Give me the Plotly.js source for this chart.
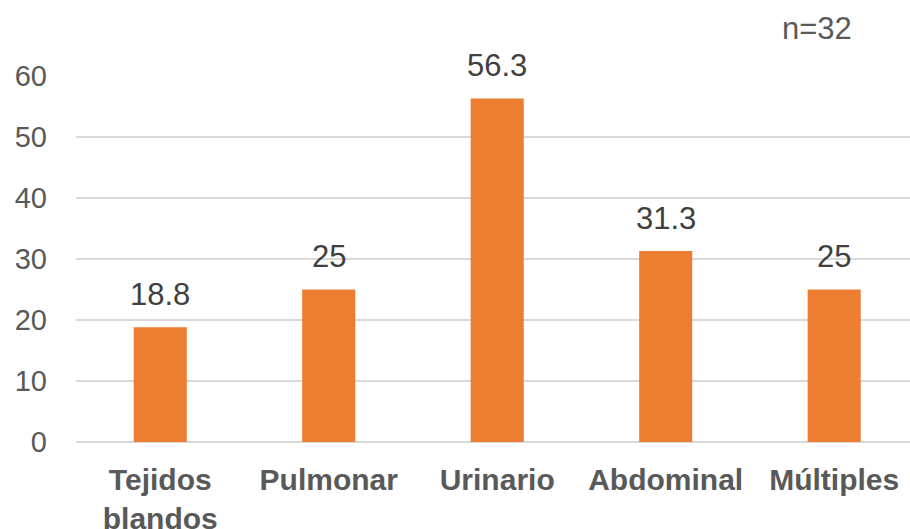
<!DOCTYPE html>
<html>
<head>
<meta charset="utf-8">
<script src="https://cdn.plot.ly/plotly-3.0.1.min.js"></script>
<style>html,body{margin:0;padding:0;background:#fff;}#chart{width:910px;height:529px;}</style>
</head>
<body>
<div id="chart"></div>
<script>
var categories = ["Tejidos<br>blandos", "Pulmonar", "Urinario", "Abdominal", "Múltiples"];
var values = [18.8, 25, 56.3, 31.3, 25];
var valueLabels = ["18.8", "25", "56.3", "31.3", "25"];
var yTicks = [0, 10, 20, 30, 40, 50, 60];
var noteText = "n=32";

var FONT = "Liberation Sans, Arial, sans-serif";
var plotL = 76, plotR = 910, plotT = 76, plotB = 442;

var trace = {
  type: "bar",
  x: categories,
  y: values,
  marker: {color: "#ED7D31"},
  hoverinfo: "none"
};

var annotations = categories.map(function (c, i) {
  return {
    x: c, y: values[i], xref: "x", yref: "y",
    text: valueLabels[i], showarrow: false,
    xanchor: "center", yanchor: "middle", yshift: 33,
    font: {family: FONT, size: 31, color: "#404040"}
  };
});
annotations.push({
  x: (817 - plotL) / (plotR - plotL),
  y: (plotB - 28.5) / (plotB - plotT),
  xref: "paper", yref: "paper", text: noteText, showarrow: false,
  xanchor: "center", yanchor: "middle",
  font: {family: FONT, size: 31, color: "#595959"}
});

var layout = {
  width: 910, height: 529,
  margin: {l: plotL, r: 910 - plotR, t: plotT, b: 529 - plotB, pad: 0},
  paper_bgcolor: "#ffffff", plot_bgcolor: "#ffffff",
  showlegend: false,
  bargap: 0.685,
  font: {family: FONT, color: "#595959"},
  xaxis: {
    type: "category",
    range: [-0.5, 4.45],
    showgrid: false, showline: false, zeroline: false,
    ticks: "", ticklabelstandoff: 17,
    tickfont: {family: FONT, size: 30, color: "#595959", weight: "bold"}
  },
  yaxis: {
    range: [0, 60],
    tickvals: yTicks,
    ticktext: yTicks.map(String),
    showgrid: true, gridcolor: "#D9D9D9", gridwidth: 1.5,
    zeroline: true, zerolinecolor: "#D9D9D9", zerolinewidth: 1.5,
    showline: false, ticks: "", ticklabelstandoff: 28,
    tickfont: {family: FONT, size: 29, color: "#595959"}
  },
  annotations: annotations
};

Plotly.newPlot("chart", [trace], layout, {displayModeBar: false, staticPlot: true});
</script>
</body>
</html>
